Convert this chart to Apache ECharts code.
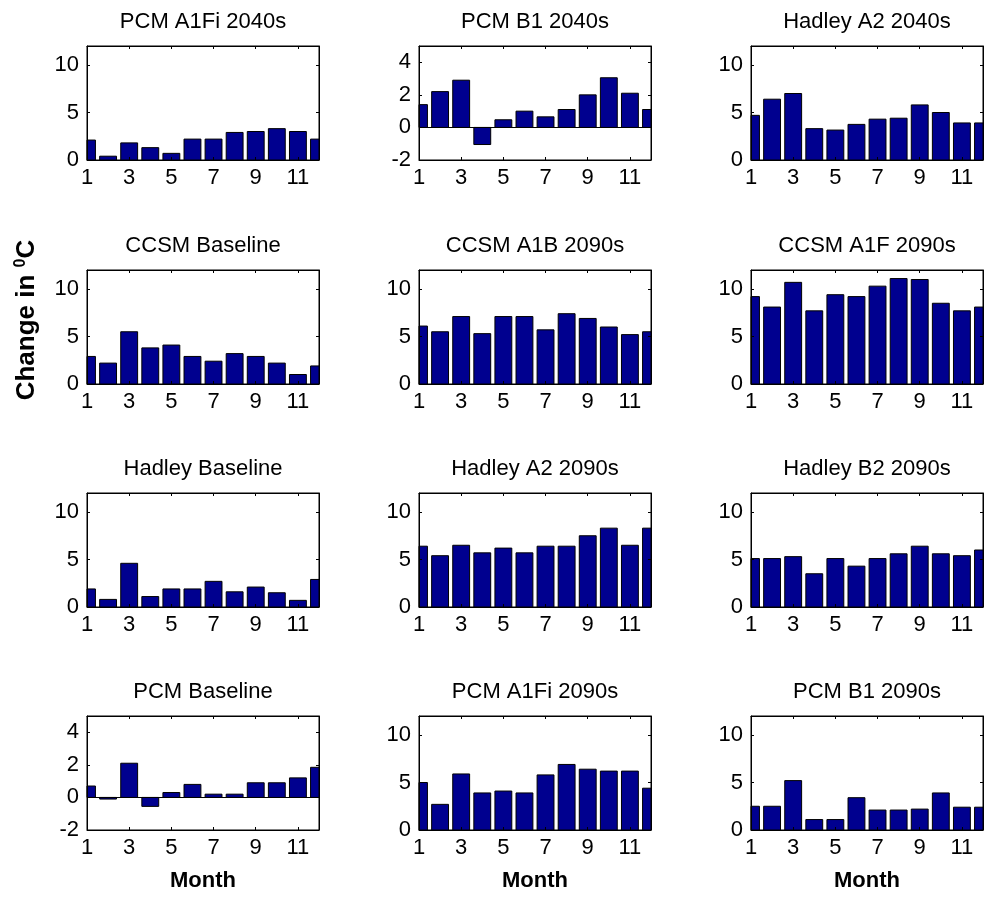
<!DOCTYPE html>
<html><head><meta charset="utf-8">
<script src="https://cdn.jsdelivr.net/npm/echarts@6/dist/echarts.min.js"></script>
<style>html,body{margin:0;padding:0;background:#fff}#c{width:984px;height:897px}</style>
</head><body><div id="c"></div>
<script>
// ---- data ----
const months = [1,2,3,4,5,6,7,8,9,10,11,12];
const monthTicks = [1,3,5,7,9,11];
const titles = ['PCM A1Fi 2040s','PCM B1 2040s','Hadley A2 2040s',
                'CCSM Baseline','CCSM A1B 2090s','CCSM A1F 2090s',
                'Hadley Baseline','Hadley A2 2090s','Hadley B2 2090s',
                'PCM Baseline','PCM A1Fi 2090s','PCM B1 2090s'];
const pcmA1Fi2040s   = [2.1,0.4,1.8,1.3,0.7,2.2,2.2,2.9,3.0,3.3,3.0,2.2];
const pcmB12040s     = [1.4,2.2,2.9,-1.05,0.47,1.0,0.65,1.1,2.0,3.05,2.1,1.1];
const hadleyA22040s  = [4.7,6.4,7.0,3.3,3.15,3.75,4.3,4.4,5.8,5.0,3.9,3.9];
const ccsmBaseline   = [2.9,2.2,5.5,3.8,4.1,2.9,2.4,3.2,2.9,2.2,1.0,1.9];
const ccsmA1B2090s   = [6.1,5.5,7.1,5.3,7.1,7.1,5.7,7.4,6.9,6.0,5.2,5.5];
const ccsmA1F2090s   = [9.2,8.1,10.7,7.7,9.4,9.2,10.3,11.1,11.0,8.5,7.7,8.1];
const hadleyBaseline = [1.9,0.8,4.6,1.1,1.9,1.9,2.7,1.6,2.1,1.5,0.7,2.9];
const hadleyA22090s  = [6.4,5.4,6.5,5.7,6.2,5.7,6.4,6.4,7.5,8.3,6.5,8.3];
const hadleyB22090s  = [5.1,5.1,5.3,3.5,5.1,4.3,5.1,5.6,6.4,5.6,5.4,6.0];
const pcmBaseline    = [0.7,-0.1,2.1,-0.55,0.3,0.8,0.2,0.2,0.9,0.9,1.2,1.85];
const pcmA1Fi2090s   = [5.0,2.7,5.9,3.9,4.1,3.9,5.8,6.9,6.4,6.2,6.2,4.4];
const pcmB12090s     = [2.5,2.5,5.2,1.1,1.1,3.4,2.1,2.1,2.2,3.9,2.4,2.4];
const panelValues = [pcmA1Fi2040s,pcmB12040s,hadleyA22040s,
                     ccsmBaseline,ccsmA1B2090s,ccsmA1F2090s,
                     hadleyBaseline,hadleyA22090s,hadleyB22090s,
                     pcmBaseline,pcmA1Fi2090s,pcmB12090s];
const wideRange = [0,12];   const wideTicks = [0,5,10];
const narrowRange = [-2,5]; const narrowTicks = [-2,0,2,4];
const narrowPanels = [1,9];
const xLabel = 'Month';

// ---- layout / style ----
const FONT = 'Liberation Sans, Arial, sans-serif';
const colLeft = [87,419,751], colW = 232;
const rowTop = [46,270,493,716], rowH = 114;
const BAR_HALF = 0.4; // bar width 0.8 of month spacing

function renderBar(params, api) {
  const x = api.value(0), y = api.value(1);
  const p0 = api.coord([x - BAR_HALF, 0]);
  const p1 = api.coord([x + BAR_HALF, y]);
  const rect = {x: p0[0], y: Math.min(p0[1], p1[1]),
                width: p1[0] - p0[0], height: Math.abs(p1[1] - p0[1])};
  const cs = params.coordSys;
  const clipped = echarts.graphic.clipRectByRect(rect, {x: cs.x, y: cs.y, width: cs.width, height: cs.height});
  if (!clipped) return null;
  return {type: 'rect', shape: clipped,
          style: {fill: '#00008F', stroke: '#000', lineWidth: 1}};
}

const grids=[], xAxes=[], yAxes=[], series=[], graphics=[];
panelValues.forEach((vals,i)=>{
  const r = Math.floor(i/3), c = i%3;
  const narrow = narrowPanels.includes(i);
  const yr = narrow ? narrowRange : wideRange;
  const yt = narrow ? narrowTicks : wideTicks;
  grids.push({left:colLeft[c], top:rowTop[r], width:colW, height:rowH,
    show:true, borderColor:'#000', borderWidth:1, backgroundColor:'#fff'});
  const axBase = {type:'value', gridIndex:i, min:months[0], max:months[months.length-1], interval:2,
    splitLine:{show:false}, z:5,
    axisLine:{show:true, onZero:false, lineStyle:{color:'#000',width:1}}};
  xAxes.push(Object.assign({}, axBase, {position:'bottom',
    axisTick:{show:true, inside:true, length:3, customValues:monthTicks, lineStyle:{color:'#000'}},
    axisLabel:{show:true, customValues:monthTicks, margin:7, color:'#000', fontSize:22, fontFamily:FONT}}));
  xAxes.push(Object.assign({}, axBase, {position:'top',
    axisTick:{show:true, inside:true, length:3, customValues:monthTicks, lineStyle:{color:'#000'}},
    axisLabel:{show:false}}));
  const ayBase = {type:'value', gridIndex:i, min:yr[0], max:yr[1], splitLine:{show:false}, z:5,
    axisLine:{show:true, onZero:false, lineStyle:{color:'#000',width:1}}};
  yAxes.push(Object.assign({}, ayBase, {position:'left',
    axisTick:{show:true, inside:true, length:3, customValues:yt, lineStyle:{color:'#000'}},
    axisLabel:{show:true, customValues:yt, margin:8, color:'#000', fontSize:22, fontFamily:FONT}}));
  yAxes.push(Object.assign({}, ayBase, {position:'right',
    axisTick:{show:true, inside:true, length:3, customValues:yt, lineStyle:{color:'#000'}},
    axisLabel:{show:false}}));
  series.push({type:'custom', xAxisIndex:2*i, yAxisIndex:2*i, z:2,
    renderItem: renderBar, encode:{x:0, y:1},
    data: months.map((m,k)=>[m, vals[k]])});
  if (narrow) {
    series.push({type:'line', xAxisIndex:2*i, yAxisIndex:2*i, z:3, data:[], silent:true,
      markLine:{silent:true, symbol:'none', animation:false, label:{show:false},
        lineStyle:{color:'#000', width:1, type:'solid'}, data:[{yAxis:0}]}});
  }
  graphics.push({type:'text', x:colLeft[c]+colW/2, y:rowTop[r]-24, silent:true,
    style:{text:titles[i], align:'center', verticalAlign:'middle', fill:'#000',
      fontSize:22, fontFamily:FONT}});
  if (r===3) {
    graphics.push({type:'text', x:colLeft[c]+colW/2, y:881, silent:true,
      style:{text:xLabel, align:'center', verticalAlign:'middle', fill:'#000',
        fontSize:22, fontWeight:'bold', fontFamily:FONT}});
  }
});
graphics.push({type:'text', x:27, y:320, rotation:Math.PI/2, silent:true,
  style:{text:'{a|Change in }{s|0}{a|C}', align:'center', verticalAlign:'middle',
    rich:{a:{fontSize:26, fontWeight:'bold', fontFamily:FONT, fill:'#000', color:'#000'},
          s:{fontSize:16, fontWeight:'bold', fontFamily:FONT, fill:'#000', color:'#000', padding:[0,0,13,0]}}}});

const chart = echarts.init(document.getElementById('c'), null, {renderer:'canvas'});
chart.setOption({animation:false, backgroundColor:'#fff',
  grid:grids, xAxis:xAxes, yAxis:yAxes, series:series, graphic:graphics});
</script></body></html>
